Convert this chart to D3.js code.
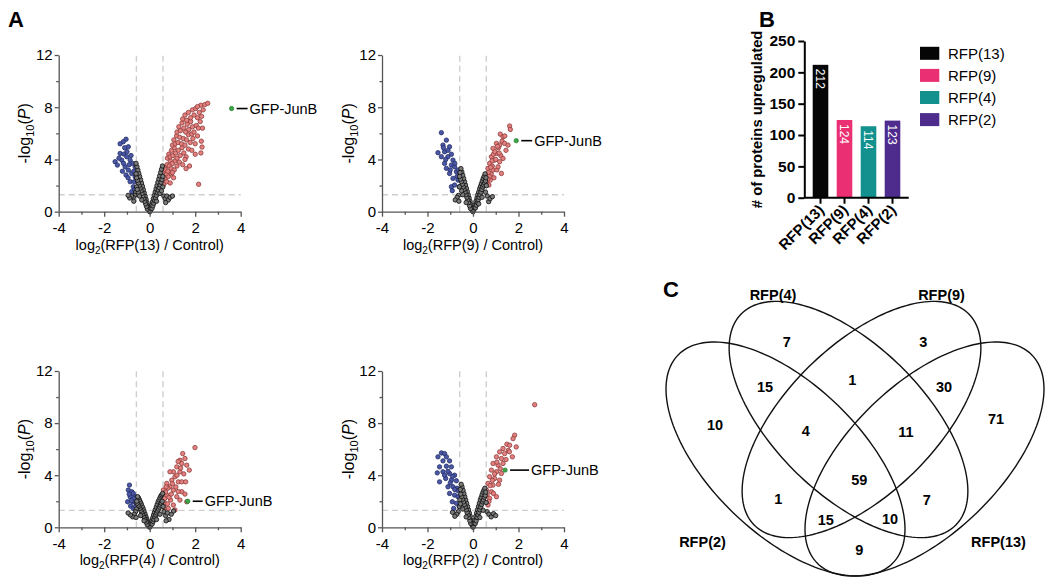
<!DOCTYPE html>
<html><head><meta charset="utf-8">
<script src="https://cdn.jsdelivr.net/npm/d3@7"></script>
<style>body{margin:0;background:#fff}svg text{font-family:Arial,"Liberation Sans",Helvetica,sans-serif}</style>
</head><body><svg id="c" width="1050" height="581"></svg>
<script>
// ---------- DATA ----------
const foldCut = [-0.585, 0.585];
const pCut = 1.3;
const xMajor = [-4,-2,0,2,4], xMinor = [-3,-1,1,3];
const yMajor = [0,4,8,12], yMinor = [2,6,10];

// RFP(13)
const ns13 = [[0,0],[-0.03,0.1],[0.03,0.12],[-0.05,0.2],[-0.08,0.45],[-0.1,0.2],[-0.12,0.7],[-0.14,0.4],[-0.16,0.95],[-0.18,0.6],[-0.2,1.2],[-0.22,0.8],[-0.24,1.45],[-0.26,1.0],[-0.28,1.7],[-0.3,1.2],[-0.32,1.95],[-0.34,1.4],[-0.36,2.2],[-0.38,1.6],[-0.4,2.45],[-0.42,1.8],[-0.44,2.7],[-0.46,2.0],[-0.48,2.95],[-0.5,2.2],[-0.52,3.2],[-0.54,2.4],[-0.56,3.45],[-0.58,2.6],[-0.6,3.7],[-0.6,2.9],[-0.58,1.9],[-0.62,1.5],[-0.66,1.25],[-0.72,1.1],[-0.8,1.2],[-0.88,1.05],[-0.95,1.25],[-0.7,0.8],[-0.5,1.5],[-0.35,0.9],[-0.45,1.2],[-0.55,1.7],
  [0.02,0.05],[0.05,0.25],[0.08,0.5],[0.1,0.25],[0.12,0.75],[0.14,0.45],[0.16,1.0],[0.18,0.65],[0.2,1.25],[0.22,0.85],[0.24,1.5],[0.26,1.05],[0.28,1.75],[0.3,1.25],[0.32,2.0],[0.34,1.45],[0.36,2.25],[0.38,1.65],[0.4,2.5],[0.42,1.85],[0.44,2.75],[0.46,2.05],[0.48,3.0],[0.5,2.25],[0.52,3.25],[0.54,2.45],[0.56,3.5],[0.58,2.7],[0.58,1.9],[0.62,1.2],[0.68,1.0],[0.75,1.2],[0.82,0.9],[0.9,1.1],[1.0,1.2],[0.7,0.7],[0.45,1.4],[0.3,0.8],[0.52,1.6]];
const down13 = [[-1.04,5.55],[-1.16,5.36],[-1.3,5.2],[-0.94,4.97],[-1.1,4.9],[-1.3,4.46],[-1.13,4.41],[-1.01,4.21],[-1.52,3.83],[-1.42,3.57],[-1.23,3.95],[-0.86,3.95],[-0.75,3.7],[-1.08,3.44],[-0.94,3.19],[-0.79,2.93],[-0.64,2.68],[-1.04,2.81],[-0.86,2.3],[-0.72,1.91],[-0.79,1.53],[-0.64,3.44],[-1.2,3.1],[-0.9,3.6],[-0.7,3.1],[-0.68,2.3],[-1.35,4.1],[-0.95,2.6],[-1.15,3.7],[-0.82,4.3],[-0.66,1.7],[-1.0,4.6]];
const up13 = [[0.62,2.1],[0.68,2.5],[0.75,2.3],[0.82,2.7],[0.9,2.2],[0.95,2.9],[0.72,2.9],[1.05,2.6],[2.15,2.1],
  [0.62,3.1],[0.66,3.4],[0.7,3.2],[0.76,3.6],[0.8,3.1],[0.86,3.5],[0.9,3.9],[0.95,3.3],[1.0,3.7],[1.08,3.2],[1.12,3.9],[1.2,3.5],[1.3,3.8],[1.45,3.6],[1.6,3.3],[1.75,3.5],[1.0,3.0],
  [0.78,4.1],[0.84,4.4],[0.9,4.2],[0.96,4.7],[1.02,4.3],[1.08,4.9],[1.14,4.5],[1.2,4.1],[1.26,4.7],[1.34,4.3],[1.42,4.9],[1.5,4.5],[1.6,4.2],[1.7,4.8],[1.85,4.7],[2.0,4.4],[2.25,4.5],[2.3,4.95],[1.55,4.0],
  [1.0,5.1],[1.06,5.5],[1.12,5.2],[1.18,5.8],[1.25,5.3],[1.32,5.7],[1.4,5.2],[1.48,5.6],[1.55,5.1],[1.62,5.5],[1.7,5.9],[1.78,5.3],[1.9,5.6],[2.0,5.2],[2.1,5.8],[2.27,5.4],[1.85,5.95],
  [1.2,6.1],[1.28,6.5],[1.35,6.2],[1.42,6.8],[1.5,6.4],[1.58,6.1],[1.65,6.7],[1.72,6.3],[1.8,6.9],[1.88,6.5],[1.95,6.1],[2.05,6.6],[2.14,6.4],[2.22,6.9],[2.32,6.4],
  [1.45,7.1],[1.55,7.4],[1.62,7.0],[1.7,7.6],[1.8,7.2],[1.88,7.8],[1.95,7.4],[2.02,7.9],[2.1,7.2],[2.18,7.6],[2.28,7.3],[2.35,7.8],[2.25,8.15],[2.42,8.2],[2.55,8.3],[2.1,8.05]];

// RFP(9)
const ns9 = [[0,0],[-0.03,0.1],[0.03,0.12],[-0.06,0.3],[-0.09,0.55],[-0.11,0.25],[-0.13,0.8],[-0.15,0.45],[-0.17,1.05],[-0.19,0.7],[-0.21,1.3],[-0.23,0.9],[-0.25,1.55],[-0.27,1.1],[-0.29,1.8],[-0.31,1.3],[-0.33,2.05],[-0.35,1.5],[-0.37,2.3],[-0.39,1.7],[-0.41,2.55],[-0.43,1.9],[-0.45,2.8],[-0.47,2.1],[-0.49,3.05],[-0.51,2.3],[-0.53,3.3],[-0.55,2.5],[-0.57,3.0],[-0.59,2.7],[-0.6,1.9],[-0.64,1.25],[-0.7,1.1],[-0.78,0.9],[-0.62,0.8],[-0.45,1.3],[-0.3,0.7],[-0.5,1.6],
  [0.06,0.3],[0.09,0.55],[0.11,0.3],[0.13,0.8],[0.15,0.5],[0.17,1.05],[0.19,0.7],[0.21,1.3],[0.23,0.9],[0.25,1.5],[0.27,1.1],[0.29,1.75],[0.31,1.3],[0.33,1.95],[0.35,1.5],[0.37,2.15],[0.39,1.7],[0.41,2.35],[0.43,1.9],[0.45,2.55],[0.47,2.05],[0.49,2.7],[0.51,2.2],[0.53,2.9],[0.55,2.35],[0.57,2.6],[0.59,2.0],[0.63,1.2],[0.69,0.77],[0.75,1.0],[0.85,1.15],[0.4,1.1],[0.55,1.5],[0.25,0.6]];
const down9 = [[-1.39,6.05],[-1.17,5.48],[-1.32,5.1],[-1.03,4.97],[-1.54,4.52],[-1.25,4.59],[-1.39,4.21],[-1.1,4.21],[-0.88,3.95],[-1.25,3.7],[-0.95,3.57],[-0.81,3.44],[-1.17,3.32],[-0.73,3.06],[-1.03,2.93],[-0.88,2.55],[-0.66,2.42],[-0.95,1.91],[-0.91,1.61],[-0.81,2.04],[-0.6,1.91],[-0.7,2.7],[-1.0,3.2],[-1.2,4.0],[-0.95,4.4],[-1.1,4.7],[-0.8,3.7],[-0.65,3.2],[-1.3,4.9]];
const up9 = [[0.59,2.68],[0.62,2.3],[0.66,3.32],[0.7,2.04],[0.73,3.7],[0.76,2.42],[0.8,2.9],[0.81,4.21],[0.85,3.5],[0.88,4.85],[0.88,3.19],[0.92,2.6],[0.95,3.95],[0.98,4.5],[1.03,5.23],[1.03,4.46],[1.05,3.2],[1.1,3.44],[1.12,4.9],[1.17,5.1],[1.17,3.83],[1.2,5.94],[1.22,4.3],[1.25,2.93],[1.28,5.4],[1.32,5.74],[1.32,4.08],[1.39,5.23],[1.45,4.7],[1.54,5.1],[1.61,6.56],[1.64,6.3],[0.68,3.0],[0.72,2.7],[0.78,3.4],[0.84,3.9],[0.9,4.4],[0.96,4.6],[1.0,4.0],[1.15,4.5],[0.65,2.5],[1.08,5.0],[1.4,5.8]];

// RFP(4)
const ns4 = [[0,0],[-0.03,0.08],[0.03,0.1],[-0.06,0.25],[-0.09,0.45],[-0.11,0.2],[-0.13,0.65],[-0.15,0.4],[-0.17,0.85],[-0.19,0.55],[-0.21,1.05],[-0.23,0.7],[-0.25,1.25],[-0.27,0.85],[-0.29,1.45],[-0.31,1.0],[-0.33,1.6],[-0.35,1.15],[-0.37,1.8],[-0.39,1.3],[-0.41,1.95],[-0.43,1.45],[-0.45,2.1],[-0.47,1.6],[-0.49,2.25],[-0.51,1.7],[-0.53,2.35],[-0.55,1.85],[-0.57,2.0],[-0.59,1.4],[-0.62,1.2],[-0.68,1.0],[-0.75,0.8],[-0.85,0.95],[-0.95,1.1],[-0.6,0.75],[-0.4,0.9],[-0.25,0.5],
  [0.06,0.28],[0.09,0.5],[0.11,0.25],[0.13,0.72],[0.15,0.45],[0.17,0.95],[0.19,0.6],[0.21,1.15],[0.23,0.8],[0.25,1.35],[0.27,0.95],[0.29,1.55],[0.31,1.1],[0.33,1.75],[0.35,1.25],[0.37,1.95],[0.39,1.4],[0.41,2.1],[0.43,1.55],[0.45,2.25],[0.47,1.7],[0.49,2.4],[0.51,1.85],[0.53,2.5],[0.55,2.0],[0.57,2.6],[0.59,1.6],[0.63,1.2],[0.7,0.9],[0.78,1.1],[0.85,0.6],[0.95,1.0],[1.05,1.25],[0.72,0.5],[0.45,1.0],[0.3,0.6]];
const down4 = [[-0.89,3.24],[-0.94,2.86],[-0.79,2.73],[-0.72,2.6],[-0.86,2.35],[-0.64,2.35],[-0.97,1.96],[-0.75,1.96],[-0.6,1.84],[-0.84,1.63],[-0.72,1.45],[-0.6,2.09],[-0.9,2.55],[-0.68,2.2],[-0.8,2.05],[-0.62,1.6]];
const up4 = [[1.99,6.12],[1.45,5.66],[1.55,5.28],[1.33,5.15],[1.41,4.9],[1.63,4.77],[1.19,4.64],[1.04,4.26],[0.89,4.26],[1.33,4.26],[1.74,4.39],[1.11,3.88],[0.97,3.62],[1.26,3.49],[0.75,3.37],[1.41,3.49],[1.58,3.49],[0.89,3.11],[0.6,2.86],[1.04,2.86],[1.41,2.73],[0.75,2.47],[1.19,2.35],[0.92,2.09],[1.33,2.09],[0.67,1.84],[1.04,1.71],[0.82,1.45],[1.11,1.33],[1.55,2.55],[1.63,1.96],[0.65,2.2],[0.7,2.7],[0.8,3.0],[0.85,2.3],[0.95,2.55],[1.15,3.1],[1.2,4.0],[0.78,1.8],[0.63,1.5],[1.25,2.75],[1.0,3.35],[0.72,3.1],[1.5,4.1],[1.36,4.55],[1.25,5.05]];

// RFP(2)
const ns2 = [[0,0],[-0.03,0.12],[0.03,0.1],[-0.05,0.3],[-0.08,0.55],[-0.1,0.3],[-0.12,0.85],[-0.14,0.5],[-0.16,1.1],[-0.18,0.75],[-0.2,1.35],[-0.22,0.95],[-0.24,1.6],[-0.26,1.15],[-0.28,1.85],[-0.3,1.35],[-0.32,2.1],[-0.34,1.55],[-0.36,2.35],[-0.38,1.75],[-0.4,2.6],[-0.42,1.95],[-0.44,2.85],[-0.46,2.15],[-0.48,3.1],[-0.5,2.35],[-0.52,3.3],[-0.54,2.55],[-0.56,2.9],[-0.58,2.1],[-0.6,1.6],[-0.65,1.2],[-0.72,1.0],[-0.8,0.85],[-0.9,1.15],[-0.45,1.4],[-0.3,0.8],[-0.55,1.8],
  [0.05,0.3],[0.08,0.55],[0.1,0.3],[0.12,0.85],[0.14,0.5],[0.16,1.1],[0.18,0.75],[0.2,1.35],[0.22,0.95],[0.24,1.6],[0.26,1.15],[0.28,1.85],[0.3,1.35],[0.32,2.1],[0.34,1.55],[0.36,2.3],[0.38,1.75],[0.4,2.5],[0.42,1.95],[0.44,2.7],[0.46,2.1],[0.48,2.85],[0.5,2.3],[0.52,3.0],[0.54,2.45],[0.56,2.7],[0.58,1.9],[0.62,1.2],[0.7,1.0],[0.8,0.8],[0.9,1.05],[1.0,0.9],[0.45,1.3],[0.3,0.75]];
const down2 = [[-1.39,5.71],[-1.25,5.66],[-1.54,5.41],[-1.17,5.41],[-1.32,5.1],[-1.03,5.1],[-1.47,4.64],[-1.17,4.69],[-0.95,4.64],[-1.57,4.18],[-1.32,4.26],[-1.03,4.13],[-0.81,4.0],[-1.47,3.49],[-1.2,3.75],[-0.95,3.62],[-0.73,3.57],[-1.1,3.11],[-0.88,3.11],[-1.03,2.6],[-0.81,2.47],[-0.66,2.35],[-0.91,1.96],[-0.73,1.84],[-0.85,1.45],[-0.6,1.58],[-1.1,4.3],[-0.9,3.9],[-0.7,3.0],[-1.25,4.0],[-0.8,2.9],[-0.65,2.8],[-1.0,3.4]];
const up2 = [[2.71,9.41],[1.83,7.07],[1.76,6.81],[1.49,6.38],[1.61,6.3],[1.32,6.05],[1.9,6.17],[1.17,5.79],[1.39,5.66],[1.73,5.41],[1.03,5.41],[1.25,5.28],[0.88,4.9],[1.1,4.77],[1.32,4.9],[0.81,4.39],[1.03,4.26],[1.25,4.13],[0.73,3.88],[0.95,3.75],[1.17,3.62],[0.66,3.37],[0.88,3.24],[0.59,2.86],[0.81,2.73],[1.03,2.35],[0.73,2.22],[0.66,1.71],[1.55,5.9],[1.2,4.5],[0.95,4.1],[0.75,3.2],[0.62,2.5],[0.85,3.6],[1.05,5.0],[0.7,2.0],[0.9,2.6],[1.45,5.2],[1.6,5.8],[1.12,3.3]];

// GFP-JunB points [log2 ratio, -log10 P]
const junb13 = [3.6, 7.9], junb9 = [1.9, 5.44], junb4 = [1.67, 2.0], junb2 = [1.41, 4.39];

// Bar chart
const barCats = ['RFP(13)','RFP(9)','RFP(4)','RFP(2)'];
const barVals = [212, 124, 114, 123];
const barColors = ['#060606','#ea2f72','#13918e','#4e2c8d'];
const barTicks = [0,50,100,150,200,250];

// Venn
const vennSets = ['RFP(2)','RFP(4)','RFP(9)','RFP(13)'];
const vennCounts = [7,3,15,1,30,10,4,11,71,59,1,7,15,10,9];

// ---------- DRAW ----------
const svg = d3.select('#c');
const FONT = 'Arial, "Liberation Sans", Helvetica, sans-serif';
const fmt = d => d < 0 ? '-' + (-d) : String(d);

function styleAxis(g, color, width, size, weight) {
  g.selectAll('path,line').attr('stroke', color).attr('stroke-width', width);
  g.attr('font-family', FONT).attr('font-size', size);
  g.selectAll('text').attr('fill', '#000').attr('font-weight', weight || 'normal');
}

function volcano(p) {
  const g = svg.append('g');
  const x = d3.scaleLinear().domain([-4,4]).range([p.x0, p.x1]);
  const y = d3.scaleLinear().domain([0,12]).range([p.yb, p.yt]);
  const dash = g.append('g').attr('stroke','#cfcfcf').attr('stroke-width',1.4).attr('stroke-dasharray','6,4');
  foldCut.forEach(v => dash.append('line').attr('x1',x(v)).attr('x2',x(v)).attr('y1',y(0)).attr('y2',y(12)));
  dash.append('line').attr('x1',x(-4)).attr('x2',x(4)).attr('y1',y(pCut)).attr('y2',y(pCut));
  const sets = [[p.up,'#e38080','#8e3c3a'],[p.down,'#4a58a6','#252d68'],[p.ns,'#7a7a7a','#0c0c0c']];
  sets.forEach(([data, fill, stroke]) => g.append('g').selectAll('circle').data(data).join('circle')
    .attr('cx', d => x(d[0])).attr('cy', d => y(d[1])).attr('r', 2.2)
    .attr('fill', fill).attr('stroke', stroke).attr('stroke-width', 0.8));
  // GFP-JunB
  const jx = x(p.junb[0]), jy = y(p.junb[1]);
  g.append('circle').attr('cx',jx).attr('cy',jy).attr('r',2.2).attr('fill','#3aa845').attr('stroke','#1d6b27').attr('stroke-width',0.6);
  g.append('line').attr('x1',jx+5).attr('x2',jx+5+p.lineLen).attr('y1',jy).attr('y2',jy).attr('stroke','#000').attr('stroke-width',1.6);
  g.append('text').attr('x',jx+7+p.lineLen).attr('y',jy).attr('dy','0.36em').attr('font-size',14.5).text('GFP-JunB');
  // axes
  const axColor = '#555';
  const xa = g.append('g').attr('transform',`translate(0,${p.yb})`)
    .call(d3.axisBottom(x).tickValues(xMajor).tickSize(5).tickSizeOuter(0).tickPadding(6).tickFormat(fmt));
  styleAxis(xa, axColor, 1.3, 15);
  const xm = g.append('g').attr('transform',`translate(0,${p.yb})`)
    .call(d3.axisBottom(x).tickValues(xMinor).tickSize(3).tickFormat(''));
  xm.select('.domain').remove(); styleAxis(xm, axColor, 1.3, 15);
  const ya = g.append('g').attr('transform',`translate(${p.x0},0)`)
    .call(d3.axisLeft(y).tickValues(yMajor).tickSize(4).tickSizeOuter(0).tickPadding(2).tickFormat(fmt));
  styleAxis(ya, axColor, 1.3, 15);
  const ym = g.append('g').attr('transform',`translate(${p.x0},0)`)
    .call(d3.axisLeft(y).tickValues(yMinor).tickSize(2.5).tickFormat(''));
  ym.select('.domain').remove(); styleAxis(ym, axColor, 1.3, 15);
  // titles
  const xt = g.append('text').attr('x', (p.x0+p.x1)/2).attr('y', p.yb+38).attr('text-anchor','middle').attr('font-size',14.5);
  xt.append('tspan').text('log');
  xt.append('tspan').attr('font-size',10).attr('dy',4).text('2');
  xt.append('tspan').attr('dy',-4).text(`(${p.name} / Control)`);
  const yt = g.append('text').attr('transform',`translate(${p.x0-34},${(p.yb+p.yt)/2}) rotate(-90)`)
    .attr('text-anchor','middle').attr('dy','0.35em').attr('font-size',16);
  yt.append('tspan').text('-log');
  yt.append('tspan').attr('font-size',11).attr('dy',4).text('10');
  yt.append('tspan').attr('dy',-4).text('(');
  yt.append('tspan').attr('font-style','italic').text('P');
  yt.append('tspan').text(')');
}

volcano({name:'RFP(13)', x0:58.7, x1:240.7, yb:211.7, yt:55, ns:ns13, up:up13, down:down13, junb:junb13, lineLen:11});
volcano({name:'RFP(9)', x0:382, x1:564, yb:211.7, yt:55, ns:ns9, up:up9, down:down9, junb:junb9, lineLen:11});
volcano({name:'RFP(4)', x0:58.7, x1:240.7, yb:527.3, yt:371, ns:ns4, up:up4, down:down4, junb:junb4, lineLen:10});
volcano({name:'RFP(2)', x0:382, x1:564, yb:527.3, yt:371, ns:ns2, up:up2, down:down2, junb:junb2, lineLen:19});

// panel letters
[['A',8,27],['B',759,27],['C',663,297]].forEach(([t,x,y]) =>
  svg.append('text').attr('x',x).attr('y',y).attr('font-size',22).attr('font-weight','bold').text(t));

// ----- Bar chart -----
{
  const g = svg.append('g');
  const bx = d3.scaleBand().domain(barCats).range([808.5, 904.5]).paddingInner(0.35).paddingOuter(0.175);
  const by = d3.scaleLinear().domain([0,250]).range([197.7, 41]);
  const color = d3.scaleOrdinal().domain(barCats).range(barColors);
  g.selectAll('rect.bar').data(barCats).join('rect').attr('class','bar')
    .attr('x', d => bx(d)).attr('width', bx.bandwidth())
    .attr('y', (d,i) => by(barVals[i])).attr('height', (d,i) => by(0) - by(barVals[i]))
    .attr('fill', d => color(d));
  g.selectAll('text.val').data(barCats).join('text').attr('class','val')
    .attr('transform', (d,i) => `translate(${bx(d)+bx.bandwidth()/2},${by(barVals[i])+4}) rotate(90)`)
    .attr('dy','0.35em').attr('fill','#fff').attr('font-size',12).text((d,i) => barVals[i]);
  const ya = g.append('g').attr('transform','translate(804.3,0)')
    .call(d3.axisLeft(by).tickValues(barTicks).tickSize(6).tickSizeOuter(0).tickPadding(3));
  styleAxis(ya, '#000', 2, 15.5, 'bold');
  const xa = g.append('g').attr('transform',`translate(0,${by(0)})`)
    .call(d3.axisBottom(bx).tickSize(6).tickSizeOuter(0).tickFormat(''));
  xa.select('.domain').attr('d', 'M804.3,0H908.7');
  styleAxis(xa, '#000', 2, 15, 'bold');
  g.selectAll('text.cat').data(barCats).join('text').attr('class','cat')
    .attr('transform', d => `translate(${bx(d)+bx.bandwidth()/2+4.5},211) rotate(-45)`)
    .attr('text-anchor','end').attr('font-size',15).attr('font-weight','bold').text(d => d);
  g.append('text').attr('transform','translate(762,119.4) rotate(-90)').attr('text-anchor','middle')
    .attr('font-size',14.8).attr('font-weight','bold').text('# of proteins upregulated');
  const lg = g.selectAll('g.lg').data(barCats).join('g').attr('class','lg')
    .attr('transform', (d,i) => `translate(920,${53.3 + i*22.1})`);
  lg.append('rect').attr('x',0).attr('y',-6.5).attr('width',19.3).attr('height',13).attr('fill', d => color(d));
  lg.append('text').attr('x',28).attr('dy','0.36em').attr('font-size',15).text(d => d);
}

// ----- Venn -----
{
  const g = svg.append('g');
  const vx = d3.scaleLinear().domain([-200,200]).range([655,1055]);
  const vy = d3.scaleLinear().domain([-150,150]).range([290,590]);
  // ellipse geometry (venn units): centre, semi-axes, tilt
  const geom = {
    'RFP(2)':  {cx:-69.5, cy:19,    a:149.5, b:75,   t:44},
    'RFP(4)':  {cx:-6.5,  cy:-20.5, a:150.5, b:74.5, t:44.5},
    'RFP(9)':  {cx:6.5,   cy:-20.5, a:150.5, b:74.5, t:-44.5},
    'RFP(13)': {cx:69.5,  cy:19,    a:149.5, b:75,   t:-44}
  };
  const line = d3.line().x(d => vx(d[0])).y(d => vy(d[1])).curve(d3.curveLinearClosed);
  const ts = d3.range(0, 360, 2);
  g.selectAll('path.ell').data(vennSets).join('path').attr('class','ell')
    .attr('d', s => { const e = geom[s], r = e.t*Math.PI/180;
      return line(ts.map(k => { const u = k*Math.PI/180, ca = e.a*Math.cos(u), sb = e.b*Math.sin(u);
        return [e.cx + ca*Math.cos(r) - sb*Math.sin(r), e.cy + ca*Math.sin(r) + sb*Math.cos(r)]; })); })
    .attr('fill','none').attr('stroke','#111').attr('stroke-width',1.4);
  const setPos = {'RFP(2)':[-152.5,101.7],'RFP(4)':[-82,-145],'RFP(9)':[86.5,-145],'RFP(13)':[143.5,101.7]};
  g.selectAll('text.set').data(vennSets).join('text').attr('class','set')
    .attr('x', s => vx(setPos[s][0])).attr('y', s => vy(setPos[s][1])).attr('dy','0.36em')
    .attr('text-anchor','middle').attr('font-size',14.5).attr('font-weight','bold').text(s => s);
  const regionPos = [[-68.3,-98.3],[68.3,-98.3],[-90,-53.3],[-2.7,-60],[89,-53.3],[-140,-15],[-49.3,-9.3],[51,-8.3],[141,-21.7],[4.3,39.3],[-76.7,58.3],[71.7,60],[-29.3,80],[35,78.3],[4.3,110]];
  g.selectAll('text.cnt').data(vennCounts).join('text').attr('class','cnt')
    .attr('x', (d,i) => vx(regionPos[i][0])).attr('y', (d,i) => vy(regionPos[i][1])).attr('dy','0.36em')
    .attr('text-anchor','middle').attr('font-size',14.5).attr('font-weight','bold').text(d => d);
}
</script></body></html>
